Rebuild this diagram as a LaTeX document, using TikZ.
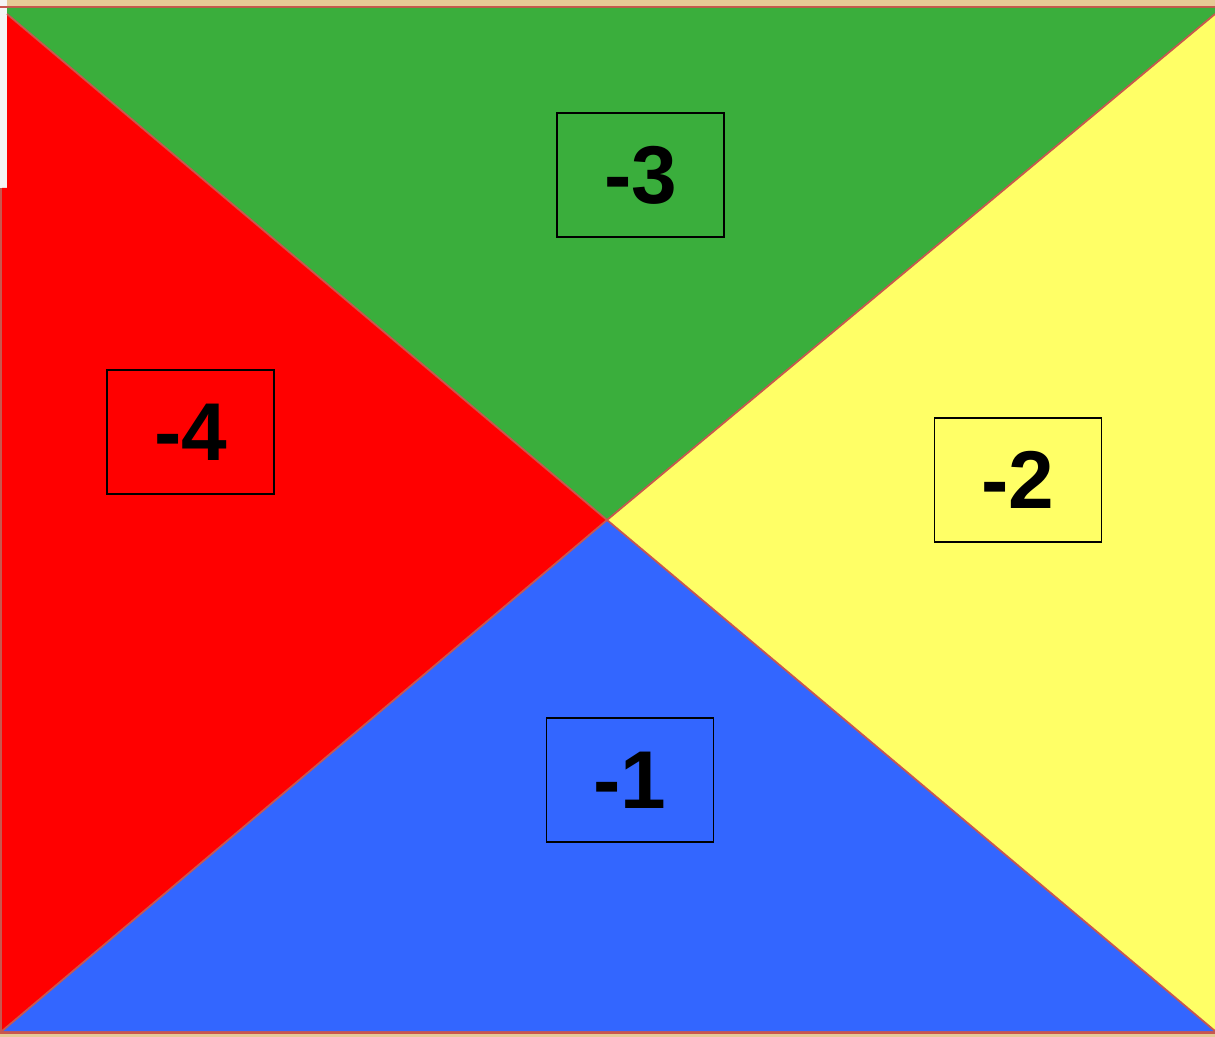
\documentclass[tikz,border=0pt]{standalone}
\usepackage{fontspec}
\setmainfont{Liberation Sans}
\begin{document}
\begin{tikzpicture}[x=0.5pt,y=-0.5pt,
  edge/.style={draw=edgered,line width=0.9pt},
  numbox/.style={draw=black,line width=0.8pt,minimum width=83.5pt,minimum height=62pt,inner sep=0pt,font=\fontsize{41}{41}\selectfont\bfseries}]
\definecolor{tan}{HTML}{E6CA96}
\definecolor{edgered}{HTML}{C8574E}
\definecolor{gr}{HTML}{3AAE3C}
\definecolor{yl}{HTML}{FFFF66}
\definecolor{bl}{HTML}{3366FF}
\definecolor{wh}{HTML}{F5F5F5}
\useasboundingbox (0,0) rectangle (1215,1037);
\fill[tan] (0,0) rectangle (1215,1037);
\fill[wh] (0,0) rectangle (7,188);
\coordinate (c) at (607,520);
\coordinate (tl) at (7,14);
\coordinate (tr) at (1215,14);
\coordinate (bl) at (2,1031);
\coordinate (br) at (1215,1031);
\fill[edgered] (0,6) rectangle (1215,8);
\fill[edgered] (0,1031) rectangle (1215,1034);
\fill[edgered] (0,188) rectangle (2,1034);
\fill[gr] (7,8) -- (1215,8) -- (tr) -- (c) -- (tl) -- cycle;
\fill[red] (tl) -- (c) -- (bl) -- (2,188) -- (7,188) -- cycle;
\fill[yl] (tr) -- (br) -- (c) -- cycle;
\fill[bl] (bl) -- (c) -- (br) -- cycle;
\draw[edge] (tl) -- (c) -- (tr);
\draw[edge] (bl) -- (c) -- (br);
\node[numbox] (n3) at (640.5,175) {-3};
\node[numbox] (n4) at (190.5,432) {-4};
\node[numbox] (n2) at (1018,480) {-2};
\node[numbox] (n1) at (630,780) {-1};
\end{tikzpicture}
\end{document}
